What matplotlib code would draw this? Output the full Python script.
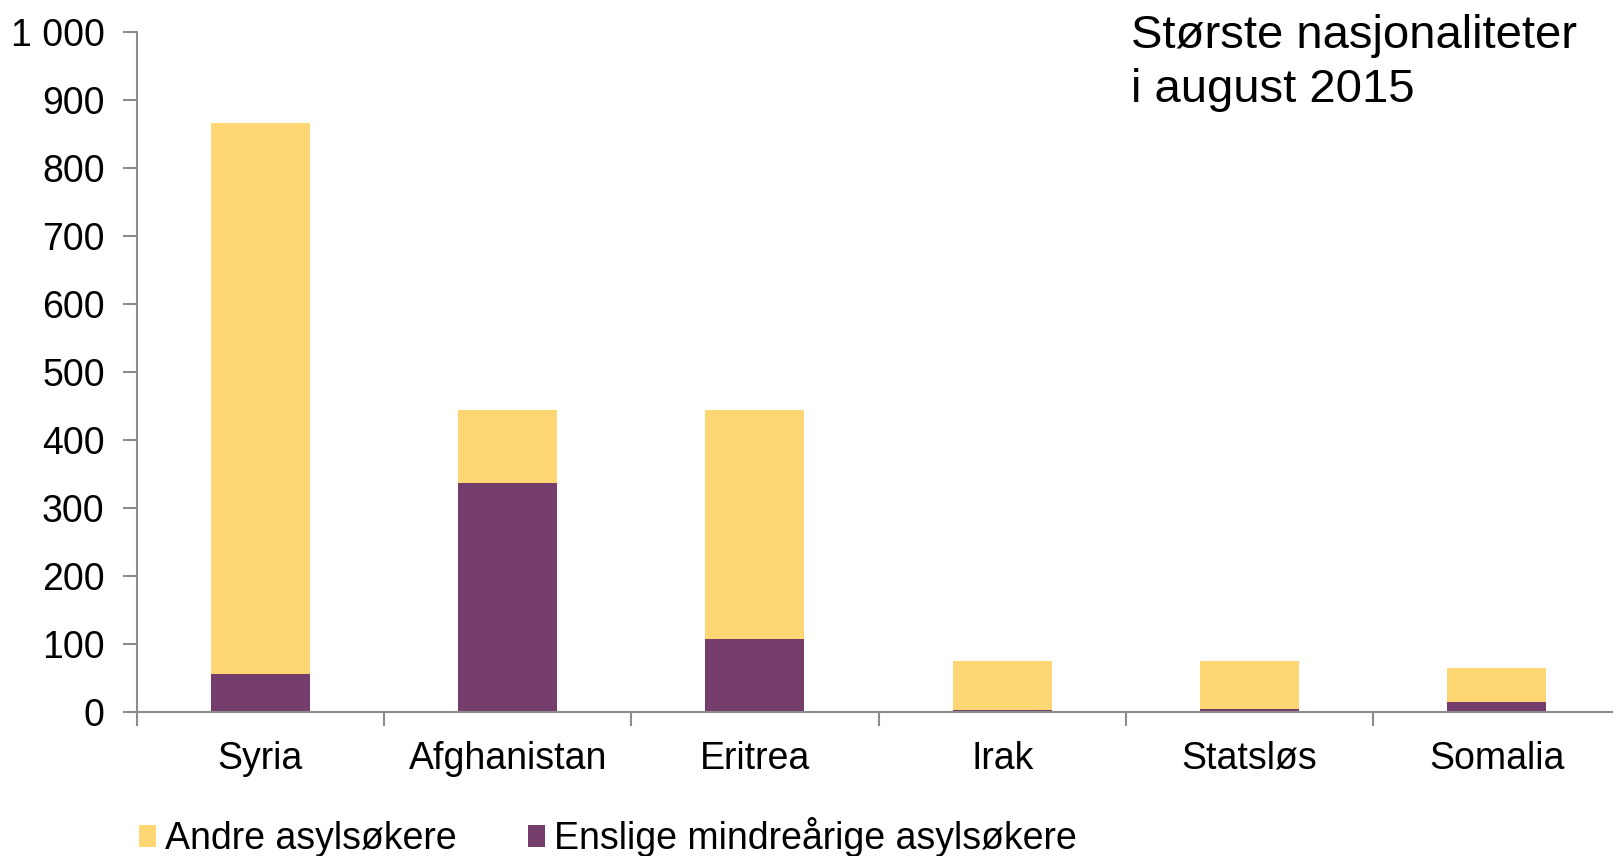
import matplotlib
matplotlib.use("Agg")
import matplotlib.pyplot as plt
from matplotlib.patches import Patch
from matplotlib.ticker import FuncFormatter, FixedLocator

plt.rcParams['font.family'] = ['Liberation Sans', 'DejaVu Sans']

categories = ["Syria", "Afghanistan", "Eritrea", "Irak", "Statsløs", "Somalia"]
enslige = [55, 336, 107, 2, 4, 14]
andre = [811, 108, 336, 73, 70, 50]
series_labels = ["Andre asylsøkere", "Enslige mindreårige asylsøkere"]
title_text = "Største nasjonaliteter\ni august 2015"

yellow = "#FED673"
purple = "#743D6B"
axis_gray = "#8C8C8C"

fig = plt.figure(figsize=(16.13, 8.56), dpi=100)
ax = fig.add_axes([0.0847, 0.1686, 0.9200, 0.7944])

x = list(range(len(categories)))
ax.bar(x, enslige, width=0.4, color=purple, edgecolor="none", zorder=2)
ax.bar(x, andre, width=0.4, bottom=enslige, color=yellow, edgecolor="none", zorder=2)

ax.set_xlim(-0.5, len(categories) - 0.5)
ax.set_ylim(0, 1000)
ax.set_yticks(range(0, 1001, 100))
ax.yaxis.set_major_formatter(FuncFormatter(lambda v, p: f"{int(v):,}".replace(",", " ")))

ax.set_xticks(x)
ax.set_xticklabels(categories)
for lbl in ax.get_xticklabels():
    lbl.set_verticalalignment('baseline')
ax.xaxis.set_minor_locator(FixedLocator([i - 0.5 for i in range(len(categories) + 1)]))
ax.tick_params(axis='x', which='major', length=0, pad=41, labelsize=27)
ax.tick_params(axis='x', which='minor', length=10, width=1.5, color=axis_gray, direction='out')
ax.tick_params(axis='y', length=10, width=1.5, color=axis_gray, pad=13, labelsize=27)

for s in ['top', 'right']:
    ax.spines[s].set_visible(False)
for s in ['left', 'bottom']:
    ax.spines[s].set_color(axis_gray)
    ax.spines[s].set_linewidth(1.5)

fig.text(0.701, 0.984, title_text, ha='left', va='top', fontsize=34, linespacing=1.3)

handles = [Patch(facecolor=yellow, edgecolor='none'), Patch(facecolor=purple, edgecolor='none')]
fig.legend(handles, series_labels, loc='center left', bbox_to_anchor=(0.086, 0.022),
           ncol=2, frameon=False, fontsize=27, handlelength=0.45, handleheight=0.55,
           handletextpad=0.25, columnspacing=1.9, borderpad=0, borderaxespad=0)

fig.savefig("out.png", dpi=100)
